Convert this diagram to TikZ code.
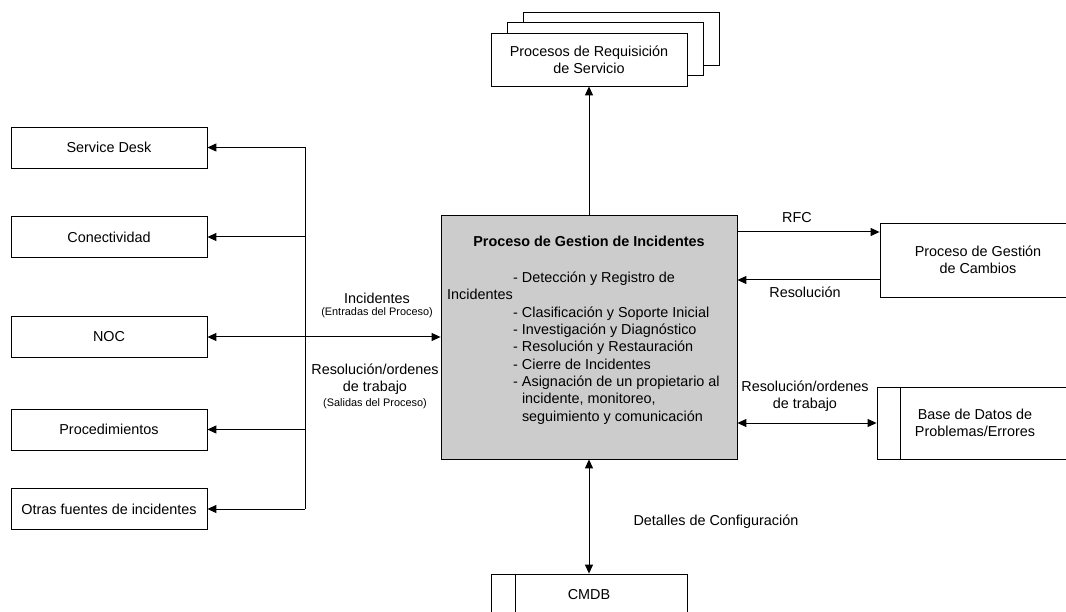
\documentclass[tikz,border=0pt]{standalone}
\usepackage{fontspec}
\setmainfont{Liberation Sans}
\usetikzlibrary{positioning}
\usetikzlibrary{arrows.meta}

\tikzset{
  caja/.style={draw, line width=0.8pt, fill=white, minimum width=196pt, minimum height=41pt, inner sep=0pt, align=center},
  flecha/.style={line width=1pt, -{Triangle[length=9pt,width=8pt]}},
  flechas/.style={line width=1pt, {Triangle[length=9pt,width=8pt]}-{Triangle[length=9pt,width=8pt]}},
  etiq/.style={align=center, inner sep=0pt},
  chico/.style={inner sep=0pt, font=\fontsize{10.9}{13}\selectfont}
}

\begin{document}
\begin{tikzpicture}[x=1pt,y=-1pt,font=\fontsize{14.4}{17.3}\selectfont]

\useasboundingbox (0,0) rectangle (1066,612);

%fuentes de incidentes
\node[caja] (sd) at (109,147.5) {Service Desk};
\node[caja] (con) at (109,237) {Conectividad};
\node[caja] (noc) at (109,337) {NOC};
\node[caja] (proc) at (109,429.5) {Procedimientos};
\node[caja] (otras) at (109,509) {Otras fuentes de incidentes};

\coordinate (bus) at (305,0);
\draw[line width=1pt] (bus |- sd.east) -- (bus |- otras.east);
\foreach \n in {sd,con,proc,otras}
  \draw[flecha] (bus |- \n.east) -- (\n.east);

%proceso central
\node[draw, line width=0.8pt, fill=gray!40, minimum width=296pt, minimum height=244pt] (gestion) at (589,337) {};

\node[inner sep=0pt, font=\bfseries\fontsize{14.4}{17.3}\selectfont] (titulo) at (589,241) {Proceso de Gestion de Incidentes};
% la base es la de la ultima linea
\node[anchor=base west, align=left, inner sep=0pt] (lista) at (513,421) {- Detección y Registro de\\
\hspace*{-66pt}Incidentes\\
- Clasificación y Soporte Inicial\\
- Investigación y Diagnóstico\\
- Resolución y Restauración\\
- Cierre de Incidentes\\
- Asignación de un propietario al\\
\hphantom{- }incidente, monitoreo,\\
\hphantom{- }seguimiento y comunicación};

\draw[flechas] (noc.east) -- (noc.east -| gestion.west);

\node[etiq] (inc) at (377,298) {Incidentes};
\node[chico] (entr) at (377,313) {(Entradas del Proceso)};
\node[etiq] (resord) at (375,379.5) {Resolución/ordenes\\de trabajo};
\node[chico] (sal) at (375,404) {(Salidas del Proceso)};

%requisicion de servicio
\node[caja, minimum height=53pt] (req3) at (621,38.5) {};
\node[caja, minimum height=53pt] (req2) at (605,49) {};
\node[caja, minimum height=53pt] (req) at (589,59.5) {Procesos de Requisición\\de Servicio};
\draw[flecha] (gestion.north) -- (req.south);

%gestion de cambios
\node[caja, minimum height=74pt] (cambios) at (978,260) {Proceso de Gestión\\de Cambios};
\coordinate (rfc) at (800,232);
\coordinate (resol) at (800,280);
\draw[flecha] (gestion.east |- rfc) -- (cambios.west |- rfc);
\draw[flecha] (cambios.west |- resol) -- (gestion.east |- resol);
\node[etiq] (lrfc) at (797,218) {RFC};
\node[etiq] (lresol) at (805,292) {Resolución};

%base de datos
\node[caja, minimum height=72pt] (bd) at (975,423) {Base de Datos de\\Problemas/Errores};
\draw[line width=0.8pt] ([xshift=24pt]bd.north west) -- ([xshift=24pt]bd.south west);
\draw[flechas] (gestion.east |- bd.west) -- (bd.west);
\node[etiq] (lbd) at (805,396.5) {Resolución/ordenes\\de trabajo};

%CMDB
\node[caja, minimum height=42pt] (cmdb) at (589,595) {CMDB};
\draw[line width=0.8pt] ([xshift=25pt]cmdb.north west) -- ([xshift=25pt]cmdb.south west);
\draw[flechas] (gestion.south) -- (cmdb.north);
\node[etiq] (ldet) at (716,522) {Detalles de Configuración};

\end{tikzpicture}
\end{document}
